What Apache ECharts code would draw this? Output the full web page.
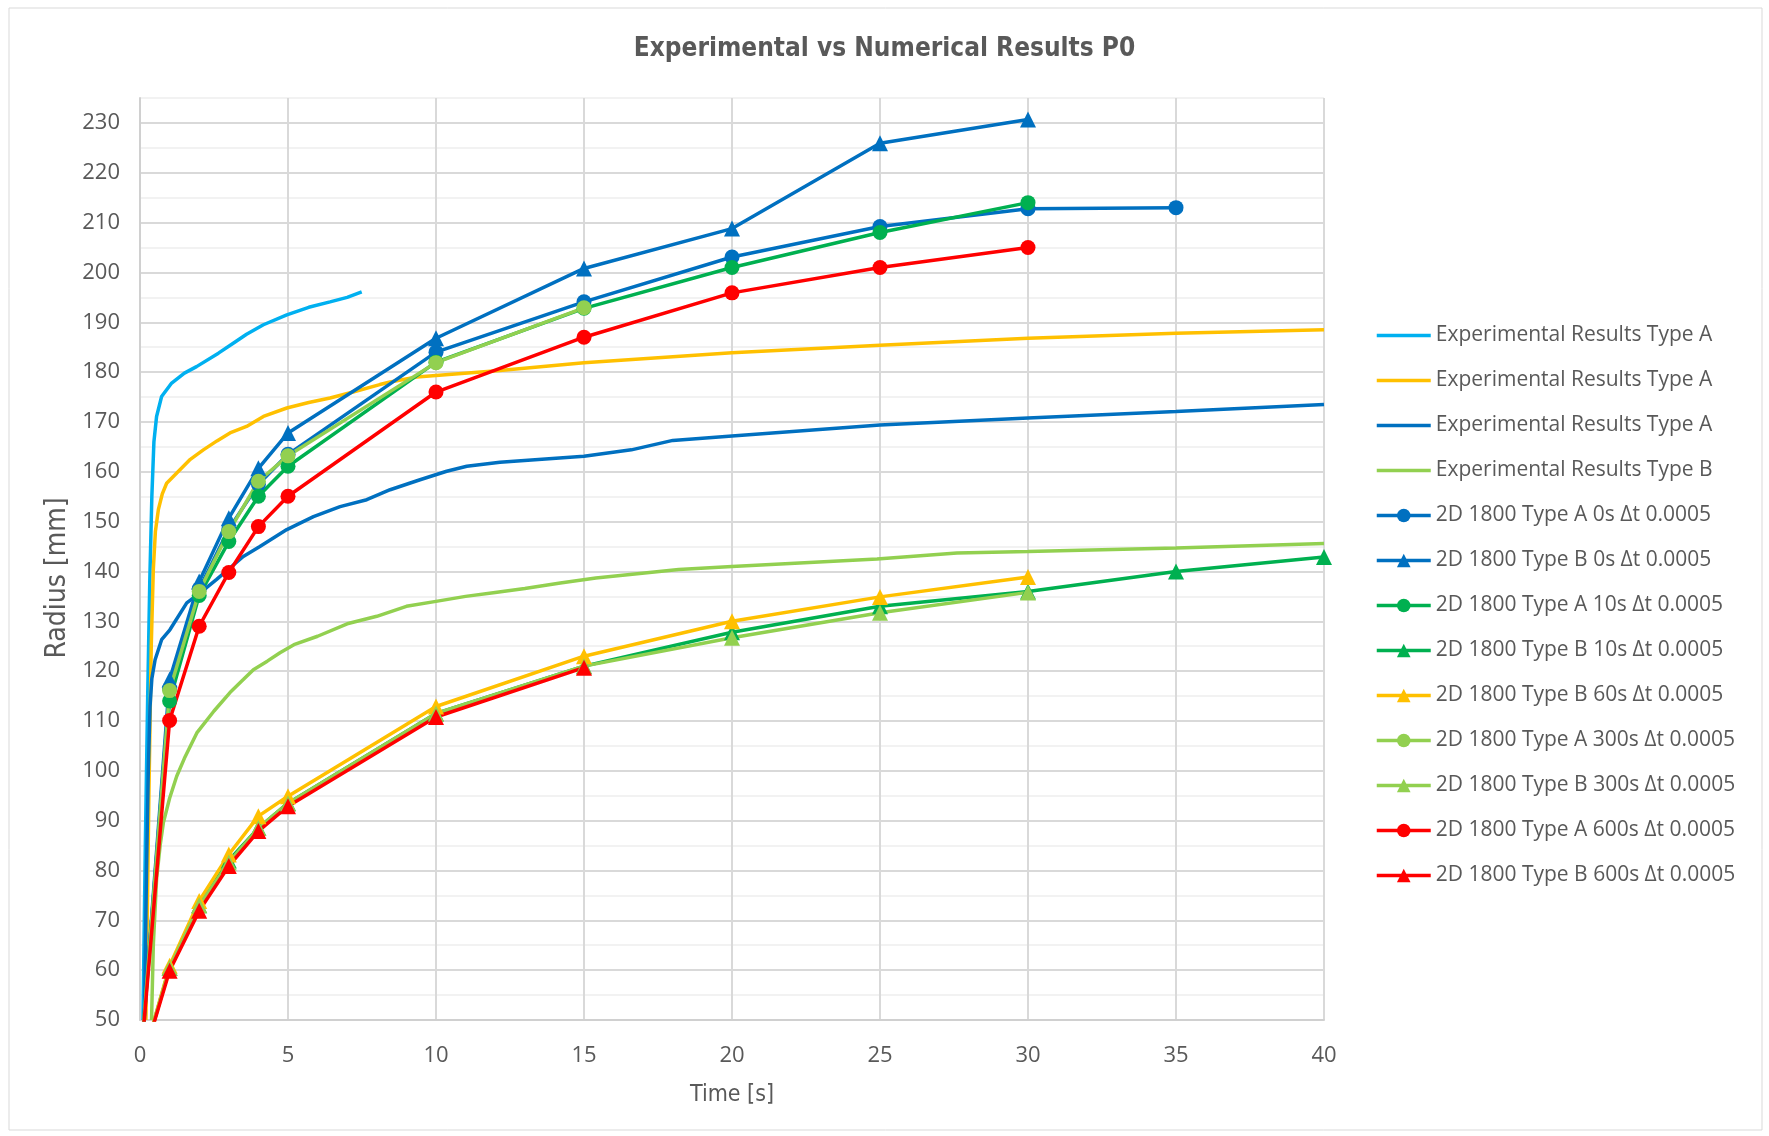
<!DOCTYPE html>
<html>
<head>
<meta charset="utf-8">
<script src="https://cdn.jsdelivr.net/npm/echarts@6/dist/echarts.min.js"></script>
<style>
html,body{margin:0;padding:0;background:#fff;}
#chart{width:1769px;height:1136px;}
</style>
</head>
<body>
<div id="chart"></div>
<script>
// ---------- data ----------
const xTicks = [0, 5, 10, 15, 20, 25, 30, 35, 40];
const yTicks = [50, 60, 70, 80, 90, 100, 110, 120, 130, 140, 150, 160, 170, 180, 190, 200, 210, 220, 230];

// Experimental curves [time, radius]
const expA1 = [[0.1,50],[0.18,85],[0.26,115],[0.33,138],[0.4,155],[0.47,166],[0.56,171.1],[0.73,175.1],[1.07,177.8],[1.5,179.8],[1.91,181.1],[2.65,183.8],[3.15,185.8],[3.6,187.6],[4.17,189.5],[4.96,191.5],[5.7,193],[6.42,194.1],[7,195],[7.49,196.1]];
const expA2 = [[0.2,50],[0.3,95],[0.38,125],[0.45,140.4],[0.52,148],[0.62,152.4],[0.75,155.5],[0.9,157.7],[1.35,160.4],[1.7,162.5],[2.14,164.4],[2.6,166.2],[3.04,167.8],[3.6,169.1],[4.17,171.1],[4.96,172.8],[5.7,173.9],[6.42,174.8],[7.2,176],[8.1,177.5],[8.45,178],[9.35,179],[10,179.3],[12.16,180.3],[15,181.9],[20,183.9],[25,185.4],[30,186.8],[35,187.8],[40,188.5]];
const expA3 = [[0.15,50],[0.22,80],[0.28,100],[0.34,113],[0.4,118.5],[0.51,122.3],[0.73,126.3],[1.01,128.3],[1.58,133.7],[2.03,135.7],[2.59,138.4],[3.49,143],[4.05,145],[4.96,148.4],[5.86,151],[6.76,153],[7.66,154.4],[8.45,156.4],[9.46,158.4],[10.36,160.1],[11.04,161.1],[12.16,161.9],[15,163.1],[16.6,164.4],[18,166.3],[20,167.2],[25,169.4],[30,170.8],[35,172.1],[40,173.5]];
const expB = [[0.39,50],[0.45,65],[0.56,78.3],[0.68,85],[0.79,89.6],[1,94.5],[1.24,98.9],[1.5,102.5],[1.92,107.6],[2.5,112],[3.04,115.7],[3.49,118.3],[3.83,120.3],[4.3,122],[4.73,123.7],[5.2,125.3],[6,127],[7,129.5],[8,131],[9,133],[10,134],[11,135],[12,135.8],[13,136.6],[14.2,137.7],[15.4,138.7],[18.2,140.4],[20,141],[24.9,142.5],[27.6,143.7],[30,144],[35,144.7],[40,145.6]];

// Numerical results: times and radii
const numTime = [0, 1, 2, 3, 4, 5, 10, 15, 20, 25, 30, 35, 40];
const numA0   = [40, 116.5, 136.5, 148.5, 157.5, 163.5, 184, 194.1, 203.1, 209.2, 212.8, 213];
const numB0   = [40, 118.3, 138, 150.7, 160.7, 167.8, 186.8, 200.8, 208.8, 225.9, 230.7];
const numA10  = [40, 114, 135.2, 146, 155.1, 161.1, 182, 192.8, 201, 208, 214];
const numB10  = [40, 60.5, 73, 82, 88.5, 93.5, 111.5, 121, 127.8, 133, 136, 140, 142.9];
const numB60  = [40, 60.9, 73.9, 83.2, 90.9, 94.9, 112.9, 123, 130, 134.9, 138.9];
const numA300 = [40, 116.1, 136, 148, 158.1, 163.2, 181.9, 192.9];
const numB300 = [40, 60.5, 73, 81.6, 88.5, 93.5, 111.5, 121, 126.7, 131.7, 135.8];
const numA600 = [40, 110.1, 129, 139.8, 149, 155.1, 176, 187, 195.9, 201, 205];
const numB600 = [40, 59.9, 71.9, 80.9, 87.9, 92.9, 110.8, 120.7];

const expNames = ['Experimental Results Type A#1', 'Experimental Results Type A#2', 'Experimental Results Type A#3', 'Experimental Results Type B#4'];
const numNames = ['2D 1800 Type A 0s \u0394t 0.0005', '2D 1800 Type B 0s \u0394t 0.0005', '2D 1800 Type A 10s \u0394t 0.0005', '2D 1800 Type B 10s \u0394t 0.0005', '2D 1800 Type B 60s \u0394t 0.0005', '2D 1800 Type A 300s \u0394t 0.0005', '2D 1800 Type B 300s \u0394t 0.0005', '2D 1800 Type A 600s \u0394t 0.0005', '2D 1800 Type B 600s \u0394t 0.0005'];

// ---------- chart ----------
const C_LBLUE = '#00B0F0', C_YEL = '#FFC000', C_BLUE = '#0070C0', C_LGREEN = '#92D050', C_GREEN = '#00B050', C_RED = '#FF0000';
const textColor = '#595959';
const font = "'Open Sans', 'Noto Sans', sans-serif";
const narrow = "'Liberation Sans Narrow', 'DejaVu Sans Condensed', sans-serif";

function expSeries(name, data, color) {
  return {
    name: name, type: 'line', data: data, symbol: 'none', showSymbol: false,
    lineStyle: { color: color, width: 3.5 }, itemStyle: { color: color },
    clip: true, z: 2
  };
}
function numSeries(name, vals, color, sym) {
  const data = vals.map((v, i) => i === 0 ? { value: [numTime[i], v], symbol: 'none' } : [numTime[i], v]);
  return {
    name: name, type: 'line', data: data, symbol: sym, symbolSize: sym === 'triangle' ? 16 : 15,
    lineStyle: { color: color, width: 3.5 }, itemStyle: { color: color },
    clip: true, z: 3
  };
}

const lineIcon = 'path://M0,0H54V3.5H0Z';
const legendData = expNames.map(n => ({ name: n, icon: lineIcon })).concat(numNames.map(n => ({ name: n })));

const option = {
  backgroundColor: '#fff',
  animation: false,
  title: {
    text: 'Experimental vs Numerical Results P0',
    left: 'center', top: 31,
    textStyle: { fontFamily: narrow, fontSize: 26, fontWeight: 'bold', color: textColor }
  },
  graphic: [{
    type: 'rect', shape: { x: 9, y: 8, width: 1753, height: 1122 },
    style: { fill: 'none', stroke: '#d9d9d9', lineWidth: 1 }, silent: true, z: -10
  }],
  grid: { left: 140, right: 445, top: 98, bottom: 116, containLabel: false },
  legend: {
    orient: 'vertical', left: 1370, top: 320,
    itemWidth: 54, itemHeight: 17, itemGap: 24,
    data: legendData,
    formatter: n => n.split('#')[0],
    lineStyle: { width: 3.5 },
    textStyle: { fontFamily: font, fontSize: 21, color: textColor }
  },
  xAxis: {
    type: 'value', min: 0, max: 40, interval: 5,
    name: 'Time [s]', nameLocation: 'middle', nameGap: 64,
    nameTextStyle: { fontFamily: narrow, fontSize: 23, color: textColor },
    axisLine: { show: true, onZero: false, lineStyle: { color: '#d0d0d0', width: 2 } },
    axisTick: { show: false },
    axisLabel: { margin: 25, fontFamily: font, fontSize: 22, color: textColor,
      formatter: v => xTicks.indexOf(v) >= 0 ? String(v) : '' },
    splitLine: { show: true, lineStyle: { color: '#d9d9d9', width: 2 } }
  },
  yAxis: {
    type: 'value', min: 50, max: 235, interval: 5,
    name: 'Radius [mm]', nameLocation: 'middle', nameGap: 68,
    nameTextStyle: { fontFamily: narrow, fontSize: 28, color: textColor, padding: [0, 38, 0, 0] },
    axisLine: { show: true, onZero: false, lineStyle: { color: '#d0d0d0', width: 2 } },
    axisTick: { show: false },
    axisLabel: { margin: 20, fontFamily: font, fontSize: 22, color: textColor,
      formatter: v => yTicks.indexOf(v) >= 0 ? String(v) : '' },
    splitLine: { show: true, lineStyle: { color: ['#d9d9d9', '#f2f2f2'], width: 2 } }
  },
  series: [
    expSeries(expNames[0], expA1, C_LBLUE),
    expSeries(expNames[1], expA2, C_YEL),
    expSeries(expNames[2], expA3, C_BLUE),
    expSeries(expNames[3], expB, C_LGREEN),
    numSeries(numNames[0], numA0, C_BLUE, 'circle'),
    numSeries(numNames[1], numB0, C_BLUE, 'triangle'),
    numSeries(numNames[2], numA10, C_GREEN, 'circle'),
    numSeries(numNames[3], numB10, C_GREEN, 'triangle'),
    numSeries(numNames[4], numB60, C_YEL, 'triangle'),
    numSeries(numNames[5], numA300, C_LGREEN, 'circle'),
    numSeries(numNames[6], numB300, C_LGREEN, 'triangle'),
    numSeries(numNames[7], numA600, C_RED, 'circle'),
    numSeries(numNames[8], numB600, C_RED, 'triangle')
  ]
};

const chart = echarts.init(document.getElementById('chart'), null, { renderer: 'canvas' });
chart.setOption(option);
</script>
</body>
</html>
